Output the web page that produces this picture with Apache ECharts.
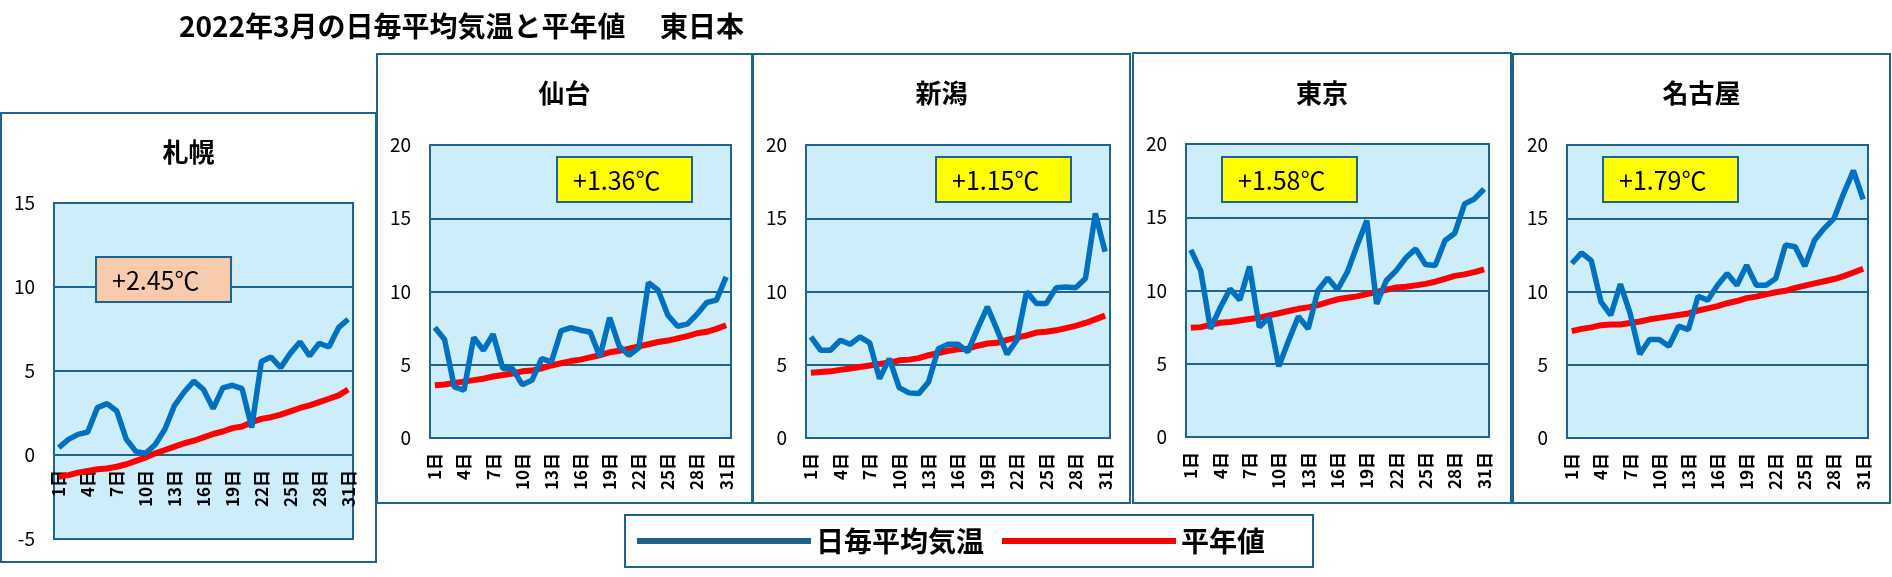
<!DOCTYPE html>
<html><head><meta charset="utf-8">
<script src="https://cdn.jsdelivr.net/npm/echarts@6/dist/echarts.min.js"></script>
<style>html,body{margin:0;padding:0;background:#fff}#c{width:1892px;height:577px}</style>
</head><body><div id="c"></div>
<script>
const days = ['1日','2日','3日','4日','5日','6日','7日','8日','9日','10日','11日','12日','13日','14日','15日','16日','17日','18日','19日','20日','21日','22日','23日','24日','25日','26日','27日','28日','29日','30日','31日'];
const cities = ['札幌','仙台','新潟','東京','名古屋'];
const anomalies = ['+2.45℃','+1.36℃','+1.15℃','+1.58℃','+1.79℃'];
const yMin = [-5, 0, 0, 0, 0];
const yMax = [15, 20, 20, 20, 20];

const sapporoDaily = [0.44,0.93,1.23,1.37,2.82,3.06,2.62,0.93,0.2,0.1,0.63,1.53,2.96,3.75,4.4,3.9,2.76,4.0,4.15,3.95,1.63,5.56,5.83,5.2,6.05,6.73,5.9,6.65,6.43,7.58,8.08];
const sapporoNormal = [-1.3,-1.2,-1.05,-0.95,-0.85,-0.8,-0.7,-0.55,-0.35,-0.15,0.1,0.3,0.5,0.7,0.85,1.05,1.25,1.4,1.6,1.7,1.95,2.15,2.25,2.4,2.6,2.8,2.95,3.15,3.35,3.55,3.9];
const sendaiDaily = [7.54,6.72,3.49,3.26,6.86,5.99,7.08,4.74,4.74,3.64,3.94,5.42,5.19,7.31,7.54,7.36,7.24,5.54,8.22,6.26,5.65,6.15,10.6,10.09,8.38,7.63,7.77,8.45,9.25,9.41,11.0];
const sendaiNormal = [3.6,3.65,3.75,3.85,3.95,4.05,4.2,4.3,4.4,4.55,4.6,4.75,4.95,5.1,5.25,5.35,5.5,5.65,5.85,5.95,6.1,6.25,6.4,6.55,6.65,6.8,6.95,7.15,7.25,7.45,7.7];
const niigataDaily = [6.9,5.99,5.99,6.67,6.4,6.9,6.49,4.05,5.42,3.44,3.08,3.03,3.83,6.1,6.4,6.4,5.88,7.47,8.95,7.36,5.72,6.67,9.98,9.18,9.18,10.25,10.3,10.25,10.89,15.33,12.71];
const niigataNormal = [4.45,4.5,4.55,4.65,4.75,4.85,4.95,5.05,5.15,5.3,5.35,5.45,5.65,5.8,5.95,6.05,6.1,6.3,6.45,6.5,6.7,6.85,7.0,7.2,7.25,7.35,7.5,7.65,7.85,8.1,8.35];
const tokyoDaily = [12.77,11.36,7.39,8.82,10.11,9.36,11.64,7.5,8.18,4.82,6.59,8.23,7.39,10.0,10.86,10.05,11.25,13.07,14.77,9.09,10.68,11.36,12.23,12.84,11.77,11.7,13.41,13.91,15.91,16.25,16.93];
const tokyoNormal = [7.45,7.5,7.65,7.8,7.85,7.95,8.05,8.15,8.3,8.45,8.6,8.75,8.85,9.0,9.2,9.4,9.5,9.6,9.75,9.9,10.05,10.2,10.25,10.35,10.45,10.6,10.8,11.0,11.1,11.25,11.45];
const nagoyaDaily = [11.91,12.64,12.1,9.29,8.38,10.5,8.5,5.72,6.72,6.72,6.26,7.63,7.4,9.68,9.41,10.43,11.23,10.43,11.8,10.43,10.43,10.89,13.17,13.05,11.73,13.51,14.31,14.99,16.7,18.25,16.29];
const nagoyaNormal = [7.3,7.45,7.55,7.7,7.75,7.75,7.85,7.95,8.1,8.2,8.3,8.4,8.5,8.7,8.85,9.0,9.2,9.35,9.55,9.65,9.8,9.95,10.05,10.25,10.4,10.55,10.7,10.85,11.05,11.3,11.55];

const dailyAll = [sapporoDaily, sendaiDaily, niigataDaily, tokyoDaily, nagoyaDaily];
const normalAll = [sapporoNormal, sendaiNormal, niigataNormal, tokyoNormal, nagoyaNormal];

const DARK = '#1F6391';
const FONT = '"Noto Sans CJK JP", "Noto Sans", sans-serif';

// layout
const grids = [
  {left:54, top:203, width:299, height:336},
  {left:430, top:145, width:301, height:293},
  {left:806, top:145, width:304, height:293},
  {left:1186, top:144, width:303, height:293},
  {left:1567, top:145, width:301, height:293}
];
const frames = [
  {x:1, y:113, w:375, h:449},
  {x:377, y:54, w:375, h:449},
  {x:753, y:54, w:377, h:449},
  {x:1133, y:53, w:378, h:450},
  {x:1513, y:54, w:377, h:449}
];
const titleY = [152, 93, 93, 93, 93];
const boxes = [
  {x:96, y:257, fill:'#F8CBAD'},
  {x:557, y:157, fill:'#FFFF00'},
  {x:936, y:157, fill:'#FFFF00'},
  {x:1222, y:157, fill:'#FFFF00'},
  {x:1603, y:157, fill:'#FFFF00'}
];

const option = {
  animation:false,
  backgroundColor:'#fff',
  grid: grids.map(g => Object.assign({show:true, backgroundColor:'#CDEDFB', borderColor:DARK, borderWidth:2}, g)),
  xAxis: grids.map((g,i) => ({
    type:'category', gridIndex:i, data:days, boundaryGap:true, position:'bottom',
    // place the axis (line + labels) at the zero value of the y axis
    offset: -g.height * (0 - yMin[i]) / (yMax[i] - yMin[i]),
    axisLine:{show:true, onZero:false, lineStyle:{color:DARK, width:2}},
    axisTick:{show:false},
    axisLabel:{interval:2, rotate:90, margin:15, color:'#000', fontSize:17, fontWeight:'bold', fontFamily:FONT}
  })),
  yAxis: grids.map((g,i) => ({
    type:'value', gridIndex:i, min:yMin[i], max:yMax[i], interval:5,
    axisLine:{show:false}, axisTick:{show:false},
    splitLine:{show:true, lineStyle:{color:DARK, width:2}},
    axisLabel:{margin:19, color:'#000', fontSize:19, fontFamily:FONT}
  })),
  legend:{
    left:625, top:515, orient:'horizontal',
    padding:[12,48,12,12], itemGap:18, itemWidth:174, itemHeight:6, itemTextGap:9,
    borderColor:DARK, borderWidth:2, icon:'rect',
    textStyle:{fontSize:28, fontWeight:'bold', color:'#000', fontFamily:FONT, lineHeight:28},
    data:[
      {name:'日毎平均気温', itemStyle:{color:'#1B6089'}},
      {name:'平年値', itemStyle:{color:'#FF0000'}}
    ]
  },
  series: [],
  graphic: []
};

for (let i = 0; i < 5; i++) {
  option.series.push({
    name:'平年値', type:'line', xAxisIndex:i, yAxisIndex:i, data:normalAll[i],
    symbol:'none', lineStyle:{color:'#FF0000', width:6}, itemStyle:{color:'#FF0000'}, z:3
  });
  option.series.push({
    name:'日毎平均気温', type:'line', xAxisIndex:i, yAxisIndex:i, data:dailyAll[i],
    symbol:'none', lineStyle:{color:'#0070C0', width:5.5}, itemStyle:{color:'#0070C0'}, z:4
  });
  const f = frames[i];
  option.graphic.push({type:'rect', z:-10, shape:{x:f.x, y:f.y, width:f.w, height:f.h},
    style:{fill:'none', stroke:DARK, lineWidth:2}});
  option.graphic.push({type:'text', z:10, style:{text:cities[i], x:f.x + f.w/2, y:titleY[i],
    align:'center', verticalAlign:'middle', font:'bold 26px ' + FONT, fill:'#000'}});
  const b = boxes[i];
  option.graphic.push({type:'rect', z:50, shape:{x:b.x, y:b.y, width:135, height:45},
    style:{fill:b.fill, stroke:DARK, lineWidth:2}});
  option.graphic.push({type:'text', z:51, style:{text:anomalies[i], x:b.x + 16, y:b.y + 23,
    align:'left', verticalAlign:'middle', font:'25px ' + FONT, fill:'#000'}});
}
option.graphic.push({type:'text', z:10, style:{text:'2022年3月の日毎平均気温と平年値　 東日本', x:179, y:26,
  align:'left', verticalAlign:'middle', font:'bold 28px ' + FONT, fill:'#000'}});

const chart = echarts.init(document.getElementById('c'), null, {renderer:'canvas'});
chart.setOption(option);
</script></body></html>
